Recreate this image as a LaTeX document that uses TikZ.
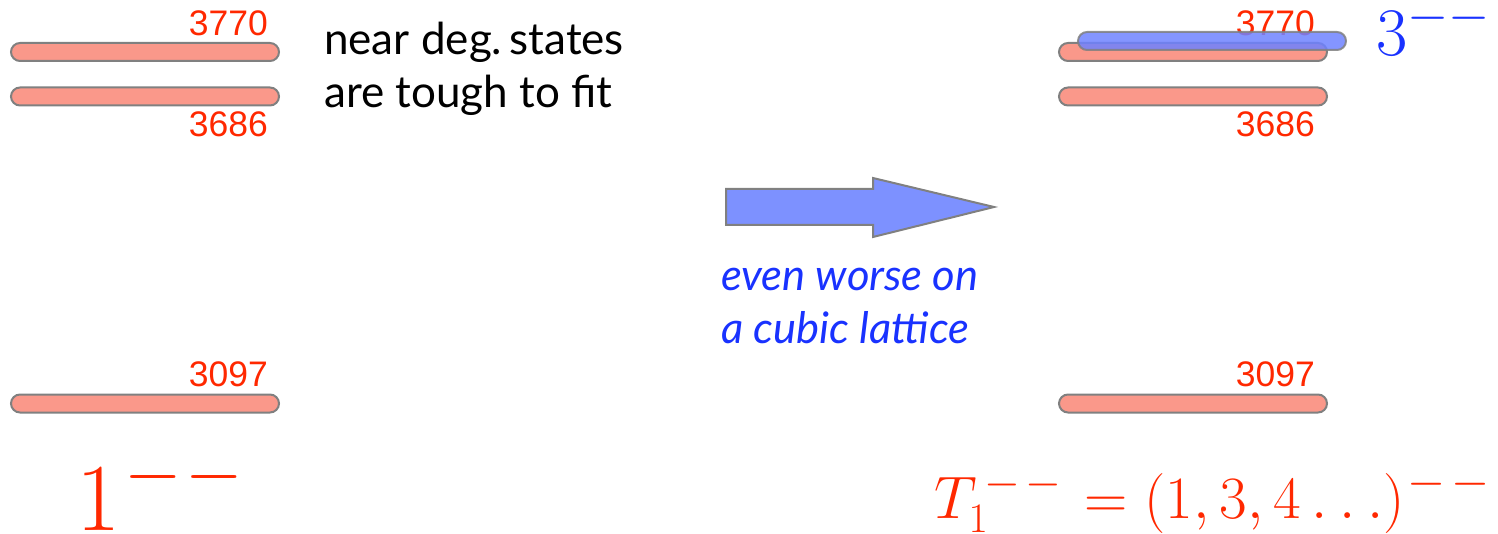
\RequirePackage{fix-cm}
\documentclass[tikz,border=0pt]{standalone}
\usepackage{fontspec}
\setmainfont{Liberation Sans}
\newfontfamily\gillfont{Lato}
\newcommand{\mmsup}[3]{^{\hbox{\fontsize{#1}{#1}\selectfont$\mkern#2mu-\mkern#3mu-$}}}
\definecolor{barred}{RGB}{250,152,138}
\definecolor{barblue}{RGB}{110,130,255}
\definecolor{bargray}{RGB}{128,128,128}
\definecolor{txtred}{RGB}{255,40,0}
\definecolor{txtblue}{RGB}{25,50,255}
\definecolor{arrowblue}{RGB}{125,145,255}
\tikzset{
  redbar/.style={draw=bargray, line width=2pt, fill=barred, rounded corners=9pt, minimum width=268pt, minimum height=18pt, inner sep=0pt},
  bluebar/.style={draw=bargray, line width=2pt, fill=barblue, fill opacity=0.85, draw opacity=0.85, rounded corners=9pt, minimum width=268pt, minimum height=18pt, inner sep=0pt},
  masslabel/.style={text=txtred, font=\fontsize{35.5}{35.5}\selectfont, inner sep=0pt, anchor=base east},
}
\begin{document}
\begin{tikzpicture}[x=1pt,y=-1pt]
\useasboundingbox (0,0) rectangle (1498,534);
% left spectrum
\node[redbar] (l3770) at (145,52) {};
\node[redbar] (l3686) at (145,96.5) {};
\node[redbar] (l3097) at (145,403.5) {};
\node[masslabel] (tl3770) at (268,36) {3770};
\node[masslabel] (tl3686) at (268,137) {3686};
\node[masslabel] (tl3097) at (268,386) {3097};
% right spectrum
\node[redbar] (r3770) at (1193,52) {};
\node[redbar] (r3686) at (1193,96.5) {};
\node[redbar] (r3097) at (1193,403.5) {};
\node[masslabel] (tr3770) at (1315,36) {3770};
\node[masslabel] (tr3686) at (1315,137) {3686};
\node[masslabel] (tr3097) at (1315,386) {3097};
\node[bluebar] (r3mm) at (1212,41) {};
% text
\node[anchor=base west, inner sep=0pt, align=left, font=\gillfont\fontsize{44}{53}\selectfont] (note) at (324,108) {near deg.\,states\\are tough to fit};
\node[anchor=base west, inner sep=0pt, align=left, text=txtblue, font=\gillfont\itshape\fontsize{43.5}{53}\selectfont] (worse) at (721,343) {even worse on\\a cubic lattice};
% arrow
\draw[draw=bargray, line width=2pt, fill=arrowblue, line join=miter]
  (726,189) -- (873,189) -- (873,178) -- (994,207) -- (873,237) -- (873,225) -- (726,225) -- cycle;
% quantum numbers
\node[anchor=base west, inner sep=0pt, text=txtblue, font=\fontsize{68}{68}\selectfont] (q3) at (1376,56) {$3\mmsup{53}{0}{0}$};
\node[anchor=base west, inner sep=0pt, text=txtred, font=\fontsize{96}{96}\selectfont] (q1) at (76,530) {$1\mmsup{74}{1}{1}$};
\node[anchor=base west, inner sep=0pt, text=txtred, font=\fontsize{60}{60}\selectfont] (qT) at (934,518)
  {$T_1\mmsup{46}{3}{2}\mkern2mu=(1,3,4\mathinner{.\mkern3.5mu.\mkern3.5mu.})\mmsup{49}{1}{2}$};
\end{tikzpicture}
\end{document}
